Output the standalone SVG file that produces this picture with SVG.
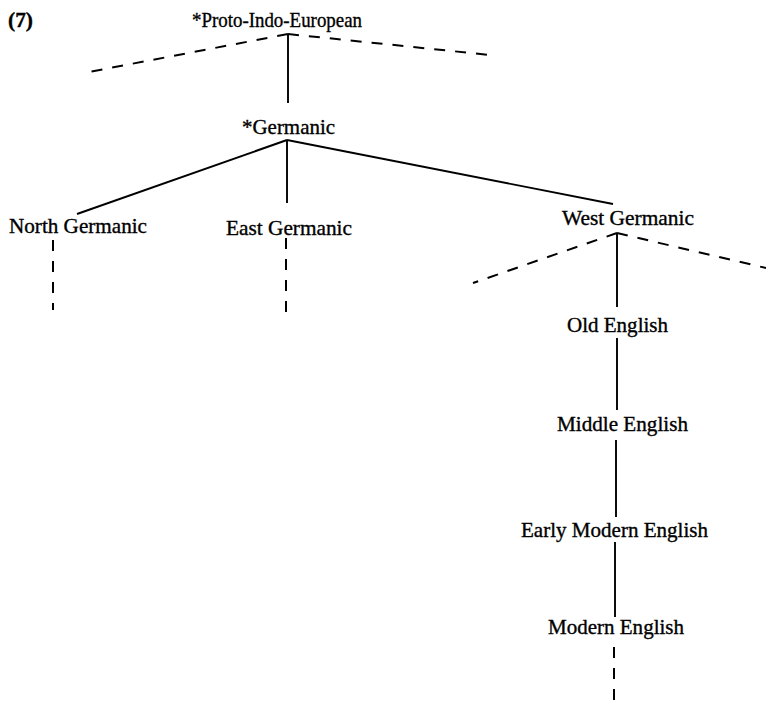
<svg xmlns="http://www.w3.org/2000/svg" width="766" height="710" viewBox="0 0 766 710">
<style>
text{font-family:"Liberation Serif","Times New Roman",serif;font-size:21px;fill:#000;stroke:#000;stroke-width:0.35}
.solid{stroke:#000;stroke-width:1.9;fill:none}
.dash{stroke:#000;stroke-width:2;fill:none;stroke-dasharray:11 10}
</style>
<rect width="766" height="710" fill="#fff"/>
<text x="8" y="27" font-weight="bold" textLength="25" lengthAdjust="spacingAndGlyphs">(7)</text>
<g id="connectors">
<line class="dash" x1="288" y1="34" x2="89" y2="72"/>
<line class="dash" x1="288" y1="34" x2="490" y2="55"/>
<line class="solid" x1="288" y1="34" x2="288" y2="103"/>
<line class="solid" x1="287" y1="140" x2="77" y2="214"/>
<line class="solid" x1="287" y1="140" x2="287" y2="203"/>
<line class="solid" x1="287" y1="140" x2="613" y2="204"/>
<line class="dash" x1="53" y1="240" x2="53" y2="310"/>
<line class="dash" x1="286" y1="238" x2="286" y2="313"/>
<line class="dash" x1="617" y1="233" x2="473" y2="283"/>
<line class="dash" x1="617" y1="233" x2="766" y2="268"/>
<line class="solid" x1="617" y1="233" x2="617" y2="307"/>
<line class="solid" x1="617" y1="338" x2="617" y2="410"/>
<line class="solid" x1="616" y1="440" x2="616" y2="517"/>
<line class="solid" x1="615" y1="542" x2="615" y2="617"/>
<line class="dash" x1="614" y1="647" x2="614" y2="710"/>
</g>
<g id="pie"><text x="192" y="27" textLength="170" lengthAdjust="spacingAndGlyphs">*Proto-Indo-European</text></g>
<g id="germanic"><text x="242" y="134" textLength="93" lengthAdjust="spacingAndGlyphs">*Germanic</text></g>
<g id="north"><text x="9" y="233" textLength="138" lengthAdjust="spacingAndGlyphs">North Germanic</text></g>
<g id="east"><text x="226" y="235" textLength="126" lengthAdjust="spacingAndGlyphs">East Germanic</text></g>
<g id="west"><text x="562" y="225" textLength="132" lengthAdjust="spacingAndGlyphs">West Germanic</text></g>
<g id="old"><text x="567" y="332" textLength="101" lengthAdjust="spacingAndGlyphs">Old English</text></g>
<g id="middle"><text x="557" y="431" textLength="131" lengthAdjust="spacingAndGlyphs">Middle English</text></g>
<g id="earlymodern"><text x="521" y="537" textLength="187" lengthAdjust="spacingAndGlyphs">Early Modern English</text></g>
<g id="modern"><text x="548" y="634" textLength="136" lengthAdjust="spacingAndGlyphs">Modern English</text></g>
</svg>
